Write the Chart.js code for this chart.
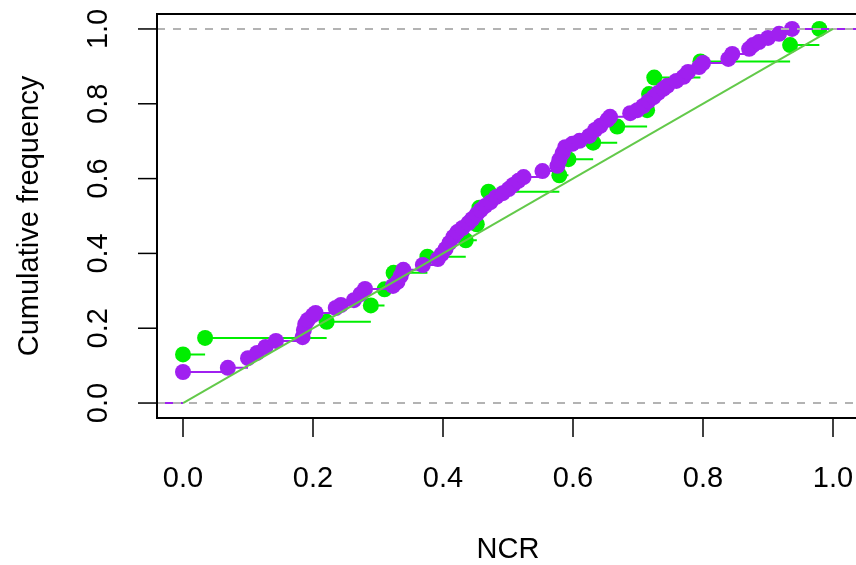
<!DOCTYPE html>
<html>
<head>
<meta charset="utf-8">
<script src="https://cdn.jsdelivr.net/npm/chart.js@4"></script>
<style>
  html, body { margin: 0; padding: 0; overflow: hidden; background: #fff; }
  canvas { display: block; }
</style>
</head>
<body>
<canvas id="ecdfChart" width="867" height="565"></canvas>
<script>
// axis ticks and limits (plot box runs just past the right edge of the window)
const xTicks = [0, 0.2, 0.4, 0.6, 0.8, 1.0];
const yTicks = [0, 0.2, 0.4, 0.6, 0.8, 1.0];
const xRange = [-0.04, 1.04];
const yRange = [-0.04, 1.04];

// green sample: jump locations and cumulative frequency
const greenX = [0, 0.034, 0.221, 0.289, 0.310, 0.324, 0.376, 0.435, 0.452, 0.456, 0.470,
  0.579, 0.593, 0.631, 0.668, 0.714, 0.717, 0.725, 0.796, 0.934, 0.979];
const greenY = [0.130, 0.174, 0.217, 0.261, 0.304, 0.348, 0.391, 0.435, 0.478, 0.522, 0.565,
  0.609, 0.652, 0.696, 0.739, 0.783, 0.826, 0.870, 0.913, 0.957, 1.0];

// purple sample
const purpleX = [0, 0.069, 0.100, 0.114, 0.127, 0.143, 0.184, 0.186, 0.188, 0.192, 0.200, 0.204,
  0.235, 0.243, 0.263, 0.273, 0.280, 0.323, 0.330, 0.335, 0.339, 0.369, 0.392, 0.398, 0.404,
  0.410, 0.416, 0.422, 0.430, 0.439, 0.445, 0.452, 0.458, 0.465, 0.473, 0.482, 0.492, 0.501,
  0.508, 0.516, 0.524, 0.553, 0.576, 0.579, 0.584, 0.588, 0.599, 0.610, 0.625, 0.634, 0.642,
  0.653, 0.657, 0.688, 0.699, 0.708, 0.716, 0.724, 0.731, 0.739, 0.745, 0.759, 0.770, 0.777,
  0.794, 0.800, 0.839, 0.845, 0.871, 0.877, 0.886, 0.900, 0.917, 0.937];
const purpleY = [0.083, 0.094, 0.120, 0.134, 0.150, 0.166, 0.176, 0.195, 0.211, 0.222, 0.235, 0.241,
  0.254, 0.262, 0.275, 0.291, 0.305, 0.313, 0.324, 0.340, 0.356, 0.369, 0.385, 0.398, 0.412,
  0.428, 0.444, 0.457, 0.468, 0.481, 0.492, 0.505, 0.516, 0.527, 0.537, 0.551, 0.561, 0.572,
  0.583, 0.594, 0.604, 0.620, 0.634, 0.650, 0.668, 0.684, 0.693, 0.701, 0.714, 0.730, 0.741,
  0.757, 0.765, 0.775, 0.783, 0.794, 0.807, 0.818, 0.829, 0.840, 0.848, 0.861, 0.872, 0.885,
  0.898, 0.909, 0.920, 0.933, 0.947, 0.957, 0.965, 0.976, 0.987, 1.0];

// uniform reference line
const refX = [0, 1];
const refY = [0, 1];

const FONT = '"Liberation Sans", Arial, Helvetica, sans-serif';

// horizontal pieces of the step function, no risers
function stepSegments(xs, ys) {
  const pts = [{x: xRange[0], y: 0}, {x: xs[0], y: 0}, {x: xs[0], y: null}];
  for (let i = 0; i < xs.length; i++) {
    const next = i < xs.length - 1 ? xs[i + 1] : xRange[1];
    pts.push({x: xs[i], y: ys[i]}, {x: next, y: ys[i]}, {x: next, y: null});
  }
  return pts;
}

function toPoints(xs, ys) {
  return xs.map((v, i) => ({x: v, y: ys[i]}));
}

const hLines = [
  {x: xRange[0], y: 0}, {x: xRange[1], y: 0}, {x: xRange[1], y: null},
  {x: xRange[0], y: 1}, {x: xRange[1], y: 1}
];

// box, ticks and labels in base-graphics style
const axesPlugin = {
  id: 'baseAxes',
  afterDraw(chart) {
    const {ctx, chartArea: a, scales: {x, y}} = chart;
    ctx.save();
    ctx.strokeStyle = '#000';
    ctx.lineWidth = 2;
    ctx.strokeRect(a.left, a.top, a.right - a.left, a.bottom - a.top);
    ctx.lineWidth = 1.5;
    ctx.fillStyle = '#000';
    ctx.font = '29px ' + FONT;
    ctx.textAlign = 'center';
    ctx.textBaseline = 'middle';
    xTicks.forEach(v => {
      const px = x.getPixelForValue(v);
      ctx.beginPath();
      ctx.moveTo(px, a.bottom);
      ctx.lineTo(px, a.bottom + 19);
      ctx.stroke();
      ctx.fillText(v.toFixed(1), px, a.bottom + 61);
    });
    yTicks.forEach(v => {
      const py = y.getPixelForValue(v);
      ctx.beginPath();
      ctx.moveTo(a.left, py);
      ctx.lineTo(a.left - 19, py);
      ctx.stroke();
      ctx.save();
      ctx.translate(a.left - 58, py);
      ctx.rotate(-Math.PI / 2);
      ctx.fillText(v.toFixed(1), 0, 0);
      ctx.restore();
    });
    ctx.fillText('NCR', (a.left + a.right) / 2, a.bottom + 132);
    ctx.save();
    ctx.translate(a.left - 127, (a.top + a.bottom) / 2);
    ctx.rotate(-Math.PI / 2);
    ctx.fillText('Cumulative frequency', 0, 0);
    ctx.restore();
    ctx.restore();
  }
};

const lineDefaults = { pointRadius: 0, pointHoverRadius: 0, pointBorderWidth: 0 };
const dotDefaults = { showLine: false, pointRadius: 8, pointHoverRadius: 0, pointBorderWidth: 0 };

new Chart(document.getElementById('ecdfChart'), {
  type: 'line',
  data: {
    datasets: [
      Object.assign({
        data: toPoints(refX, refY),
        borderColor: '#63c94a',
        borderWidth: 2,
        order: 0
      }, lineDefaults),
      Object.assign({
        data: hLines,
        borderColor: '#b3b3b3',
        borderWidth: 2,
        borderDash: [8, 8],
        order: 1
      }, lineDefaults),
      Object.assign({
        data: toPoints(purpleX, purpleY),
        pointBackgroundColor: '#a020f0',
        order: 2
      }, dotDefaults),
      Object.assign({
        data: stepSegments(purpleX, purpleY),
        borderColor: '#a020f0',
        borderWidth: 2,
        order: 3
      }, lineDefaults),
      Object.assign({
        data: toPoints(greenX, greenY),
        pointBackgroundColor: '#00ee00',
        order: 5
      }, dotDefaults),
      Object.assign({
        data: stepSegments(greenX, greenY),
        borderColor: '#00ee00',
        borderWidth: 2,
        order: 6
      }, lineDefaults)
    ]
  },
  options: {
    responsive: false,
    animation: false,
    spanGaps: false,
    // right padding equals the largest point overflow so the area ends at 859
    layout: { padding: { left: 157, top: 14, right: 8, bottom: 147 } },
    plugins: { legend: { display: false }, tooltip: { enabled: false } },
    scales: {
      x: { type: 'linear', min: xRange[0], max: xRange[1], display: false },
      y: { type: 'linear', min: yRange[0], max: yRange[1], display: false }
    }
  },
  plugins: [axesPlugin]
});
</script>
</body>
</html>
